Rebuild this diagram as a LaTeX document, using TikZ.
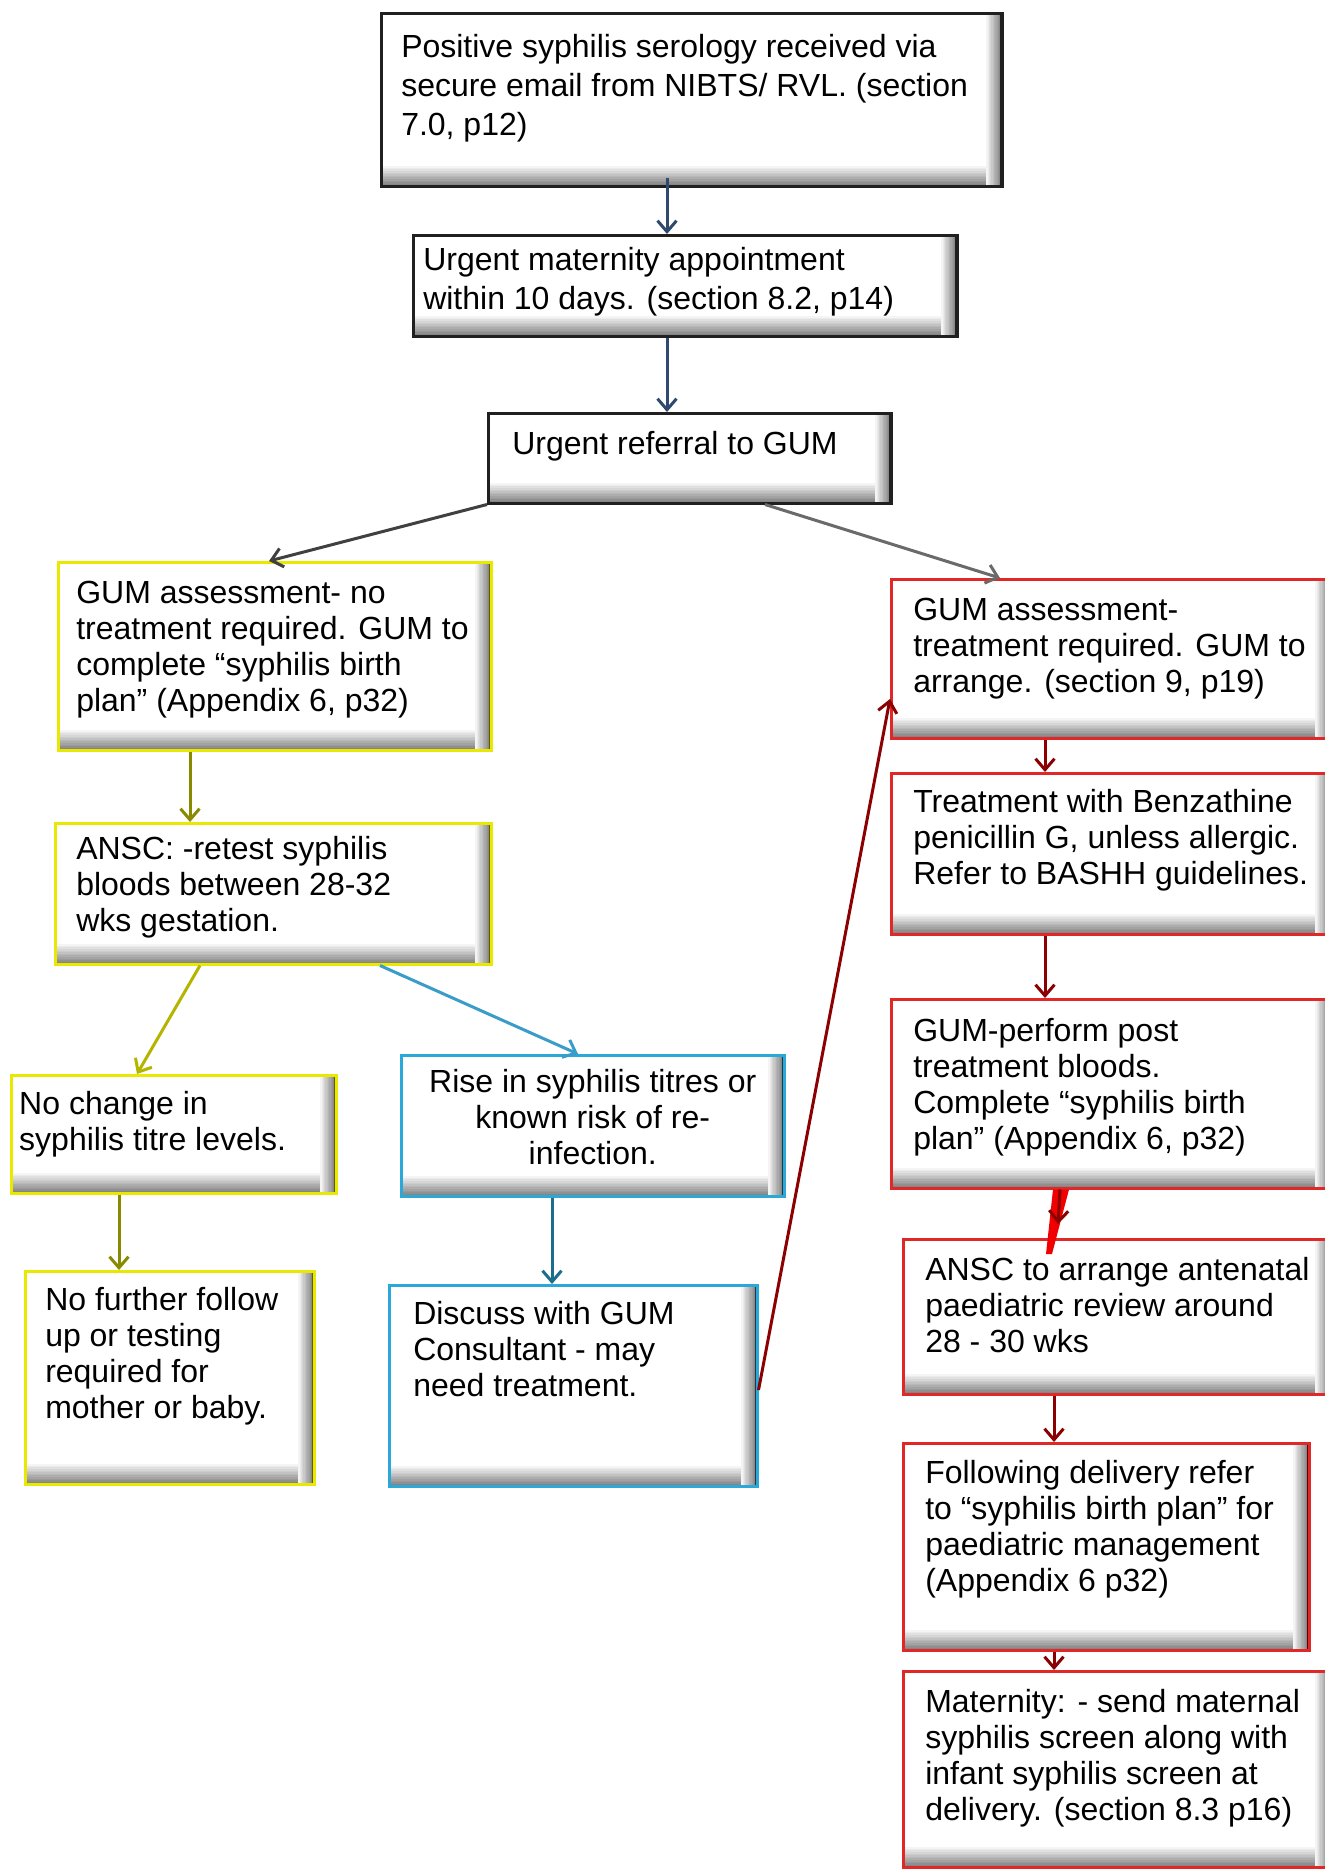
\documentclass[tikz,border=0pt]{standalone}
\usepackage{fontspec}
\setmainfont{Liberation Sans}
\usetikzlibrary{arrows.meta,calc}
\definecolor{navy}{HTML}{2F4A6E}
\definecolor{dgray}{HTML}{404040}
\definecolor{mgray}{HTML}{6A6A6A}
\definecolor{olive}{HTML}{8A8A00}
\definecolor{lolive}{HTML}{B5B500}
\definecolor{lblue}{HTML}{3A9CC8}
\definecolor{teal2}{HTML}{1B6E8C}
\definecolor{dred}{HTML}{8B0000}
\definecolor{ybord}{HTML}{E8E800}
\definecolor{yshade}{HTML}{5E5E00}
\definecolor{bbord}{HTML}{2AA8D8}
\definecolor{bshade}{HTML}{1A3A4A}
\definecolor{rbord}{HTML}{E02828}
\definecolor{rshade}{HTML}{6A0000}
\definecolor{kbord}{HTML}{202020}
\definecolor{wedge}{HTML}{F00000}
\newcommand{\boxtxt}[5]{\parbox[c][#2pt][t]{#1pt}{\vspace*{#3pt}\raggedright\leftskip=#4pt\relax #5}}
\newcommand{\boxctr}[4]{\parbox[c][#2pt][t]{#1pt}{\vspace*{#3pt}\centering #4}}
\tikzset{
  bx/.style 2 args={draw=#1, line width=2.5pt, fill=white, inner sep=0pt, anchor=north west,
    font=\fontsize{32}{36}\selectfont,
    path picture={
      \foreach \i in {0,...,11}{
        \pgfmathsetmacro\gb{4*(\i+1)}
        \pgfmathsetmacro\hb{20-1.6*\i}
        \fill[black!\gb] ([yshift=\hb pt]path picture bounding box.south west) rectangle (path picture bounding box.south east);
      }
      \foreach \i in {0,...,11}{
        \pgfmathsetmacro\gr{4.2*(\i+1)}
        \pgfmathsetmacro\wr{16-1.3*\i}
        \fill[black!\gr] ([xshift=-\wr pt]path picture bounding box.north east) rectangle (path picture bounding box.south east);
      }
      \fill[#2] ([xshift=-2.5pt]path picture bounding box.north east) rectangle (path picture bounding box.south east);
    }},
  kbox/.style={bx={kbord}{kbord}},
  ybox/.style={bx={ybord}{yshade}},
  bbox/.style={bx={bbord}{bshade}},
  rbox/.style={bx={rbord}{rbord}},
  arr/.style={line width=3pt, draw=#1, -{Straight Barb[length=11pt,width=19pt,line width=3pt]}},
  arr/.default=black,
}
\begin{document}
\begin{tikzpicture}[x=1pt,y=-1pt]
\useasboundingbox (0,0) rectangle (1325,1874);
\clip (0,0) rectangle (1325,1874);
\fill[white] (0,0) rectangle (1325,1874);
% boxes
\node[kbox, font=\fontsize{32}{39}\selectfont] (b1) at (380,12) {\boxtxt{621}{173}{21}{20}{Positive syphilis serology received via\\secure email from NIBTS/ RVL. (section\\7.0, p12)}};
\node[kbox, font=\fontsize{32}{39}\selectfont] (b2) at (412,234) {\boxtxt{544}{101}{12}{10}{Urgent maternity appointment\\within 10 days. (section 8.2, p14)}};
\node[kbox] (b3) at (487,412) {\boxtxt{403}{90}{18}{24}{Urgent referral to GUM}};
\node[ybox] (b4) at (57,561) {\boxtxt{433}{188}{19}{18}{GUM assessment- no\\treatment required. GUM to\\complete “syphilis birth\\plan” (Appendix 6, p32)}};
\node[ybox] (b5) at (54,822) {\boxtxt{436}{141}{13}{21}{ANSC: -retest syphilis\\bloods between 28-32\\wks gestation.}};
\node[ybox] (b6) at (10,1074) {\boxtxt{325}{118}{16}{8}{No change in\\syphilis titre levels.}};
\node[ybox] (b7) at (24,1270) {\boxtxt{289}{213}{16}{20}{No further follow\\up or testing\\required for\\mother or baby.}};
\node[bbox] (b8) at (400,1054) {\boxctr{383}{141}{14}{Rise in syphilis titres or\\known risk of re-\\infection.}};
\node[bbox] (b9) at (388,1284) {\boxtxt{368}{201}{16}{24}{Discuss with GUM\\Consultant - may\\need treatment.}};
\node[rbox] (b10) at (890,578) {\boxtxt{440}{159}{19}{22}{GUM assessment-\\treatment required. GUM to\\arrange. (section 9, p19)}};
\node[rbox] (b11) at (890,772) {\boxtxt{440}{161}{16}{22}{Treatment with Benzathine\\penicillin G, unless allergic.\\Refer to BASHH guidelines.}};
\node[rbox] (b12) at (890,998) {\boxtxt{440}{189}{19}{22}{GUM-perform post\\treatment bloods.\\Complete “syphilis birth\\plan” (Appendix 6, p32)}};
\node[rbox] (b13) at (902,1238) {\boxtxt{428}{155}{18}{22}{ANSC to arrange antenatal\\paediatric review around\\28 - 30 wks}};
\node[bx={rbord}{rshade}] (b14) at (902,1442) {\boxtxt{406}{207}{17}{22}{Following delivery refer\\to “syphilis birth plan” for\\paediatric management\\(Appendix 6 p32)}};
\node[rbox] (b15) at (902,1670) {\boxtxt{428}{196}{18}{22}{Maternity: - send maternal\\syphilis screen along with\\infant syphilis screen at\\delivery. (section 8.3 p16)}};
% connectors
\draw[arr=navy] ([xshift=287pt,yshift=10pt]b1.south west) -- ([xshift=255pt]b2.north west);
\draw[arr=navy] ([xshift=255pt]b2.south west) -- ([xshift=180pt]b3.north west);
\draw[arr=dgray] (b3.south west) -- ([xshift=212pt]b4.north west);
\draw[arr=mgray] ([xshift=278pt]b3.south west) -- ([xshift=110pt]b10.north west);
\draw[arr=olive] ([xshift=133pt]b4.south west) -- ([xshift=136pt]b5.north west);
\draw[arr=lolive] ([xshift=146pt]b5.south west) -- ([xshift=127pt]b6.north west);
\draw[arr=lblue] ([xshift=326pt]b5.south west) -- ([xshift=178pt]b8.north west);
\draw[arr=olive] ([xshift=109pt]b6.south west) -- ([xshift=95pt]b7.north west);
\draw[arr=teal2] ([xshift=152pt]b8.south west) -- ([xshift=164pt]b9.north west);
\draw[arr=dred] ([yshift=-106pt]b9.north east) -- ([yshift=-121pt]b10.north west);
\draw[arr=dred] ([xshift=155pt]b10.south west) -- ([xshift=155pt]b11.north west);
\draw[arr=dred] ([xshift=155pt]b11.south west) -- ([xshift=155pt]b12.north west);
\fill[wedge] ([xshift=163pt]b12.south west) -- ([xshift=179pt]b12.south west) -- ([xshift=150pt,yshift=-16pt]b13.north west) -- ([xshift=144pt,yshift=-16pt]b13.north west) -- cycle;
\draw[arr=dred] ([xshift=170pt]b12.south west) -- ([xshift=156pt,yshift=14pt]b13.north west);
\draw[arr=dred] ([xshift=152pt]b13.south west) -- ([xshift=152pt]b14.north west);
\draw[arr=dred] ([xshift=152pt]b14.south west) -- ([xshift=152pt]b15.north west);
\end{tikzpicture}
\end{document}
